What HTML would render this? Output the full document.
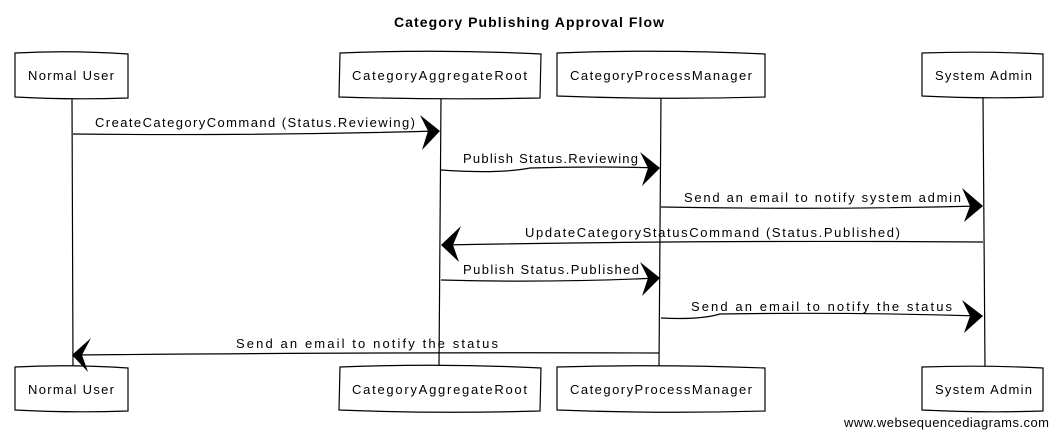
<!DOCTYPE html>
<html><head><meta charset="utf-8"><style>
html,body{margin:0;padding:0;background:#fff;width:1058px;height:436px;overflow:hidden}
text{font-family:"Liberation Sans",sans-serif;font-size:13px;fill:#000}
</style></head><body>
<svg width="1058" height="436" xmlns="http://www.w3.org/2000/svg">
<g fill="none" stroke="#000" stroke-width="1.2">
<!-- lifelines -->
<path d="M72 98 L73 367"/>
<path d="M441 98 L439 367"/>
<path d="M661 97 L659 367"/>
<path d="M983 97 L985 367"/>
<!-- top boxes -->
<path d="M15 53 Q70 50 128 54 L128 98 Q70 100 15 97 Z" fill="#fff"/>
<path d="M340 53 Q440 49 541 54 L540 98 Q440 100 339 97 Z" fill="#fff"/>
<path d="M557 53 Q660 49 765 54 L765 97 Q660 100 557 96 Z" fill="#fff"/>
<path d="M922 53 Q983 51 1043 54 L1043 97 Q983 99 922 96 Z" fill="#fff"/>
<!-- bottom boxes -->
<path d="M15 367 Q70 364 128 368 L128 411 Q70 413 15 410 Z" fill="#fff"/>
<path d="M340 367 Q440 363 541 368 L540 411 Q440 414 339 410 Z" fill="#fff"/>
<path d="M557 367 Q660 364 765 368 L765 411 Q660 414 557 410 Z" fill="#fff"/>
<path d="M922 367 Q983 365 1043 368 L1043 411 Q983 413 922 410 Z" fill="#fff"/>
<!-- messages -->
<path d="M73 134 Q250 136 438 131"/>
<path d="M441 170 Q500 174 530 168 Q600 166 658 168"/>
<path d="M661 207 Q820 210 980 206"/>
<path d="M983 242 Q700 240 444 245"/>
<path d="M441 280 Q550 283 658 278"/>
<path d="M661 318 Q700 320 720 314 Q850 312 980 316"/>
<path d="M659 353 Q400 352 75 355"/>
</g>
<g fill="#000">
<path d="M420 115 L440 131 L422 150 L428 131 Z"/>
<path d="M640 152 L660 168 L642 186 L648 168 Z"/>
<path d="M962 188 L983 206 L964 222 L970 206 Z"/>
<path d="M461 226 L441 245 L459 262 L453 245 Z"/>
<path d="M640 262 L660 278 L642 296 L648 278 Z"/>
<path d="M962 300 L983 316 L964 333 L970 316 Z"/>
<path d="M91 338 L72 355 L88 372 L82 355 Z"/>
</g>
<text x="529" y="27" text-anchor="middle" font-weight="bold" style="font-size:14px" textLength="270">Category Publishing Approval Flow</text>
<text x="28" y="80" textLength="86">Normal User</text>
<text x="352" y="80" textLength="175">CategoryAggregateRoot</text>
<text x="570" y="80" textLength="182">CategoryProcessManager</text>
<text x="935" y="80" textLength="97">System Admin</text>
<text x="28" y="394" textLength="86">Normal User</text>
<text x="352" y="394" textLength="175">CategoryAggregateRoot</text>
<text x="570" y="394" textLength="182">CategoryProcessManager</text>
<text x="935" y="394" textLength="97">System Admin</text>
<text x="95" y="127" textLength="320">CreateCategoryCommand (Status.Reviewing)</text>
<text x="463" y="163" textLength="175">Publish Status.Reviewing</text>
<text x="684" y="202" textLength="277">Send an email to notify system admin</text>
<text x="525" y="237" textLength="375">UpdateCategoryStatusCommand (Status.Published)</text>
<text x="463" y="274" textLength="176">Publish Status.Published</text>
<text x="691" y="311" textLength="261">Send an email to notify the status</text>
<text x="236" y="348" textLength="262">Send an email to notify the status</text>
<text x="1049" y="427" text-anchor="end" style="font-size:13px" textLength="205" fill="#222">www.websequencediagrams.com</text>
</svg>
</body></html>
